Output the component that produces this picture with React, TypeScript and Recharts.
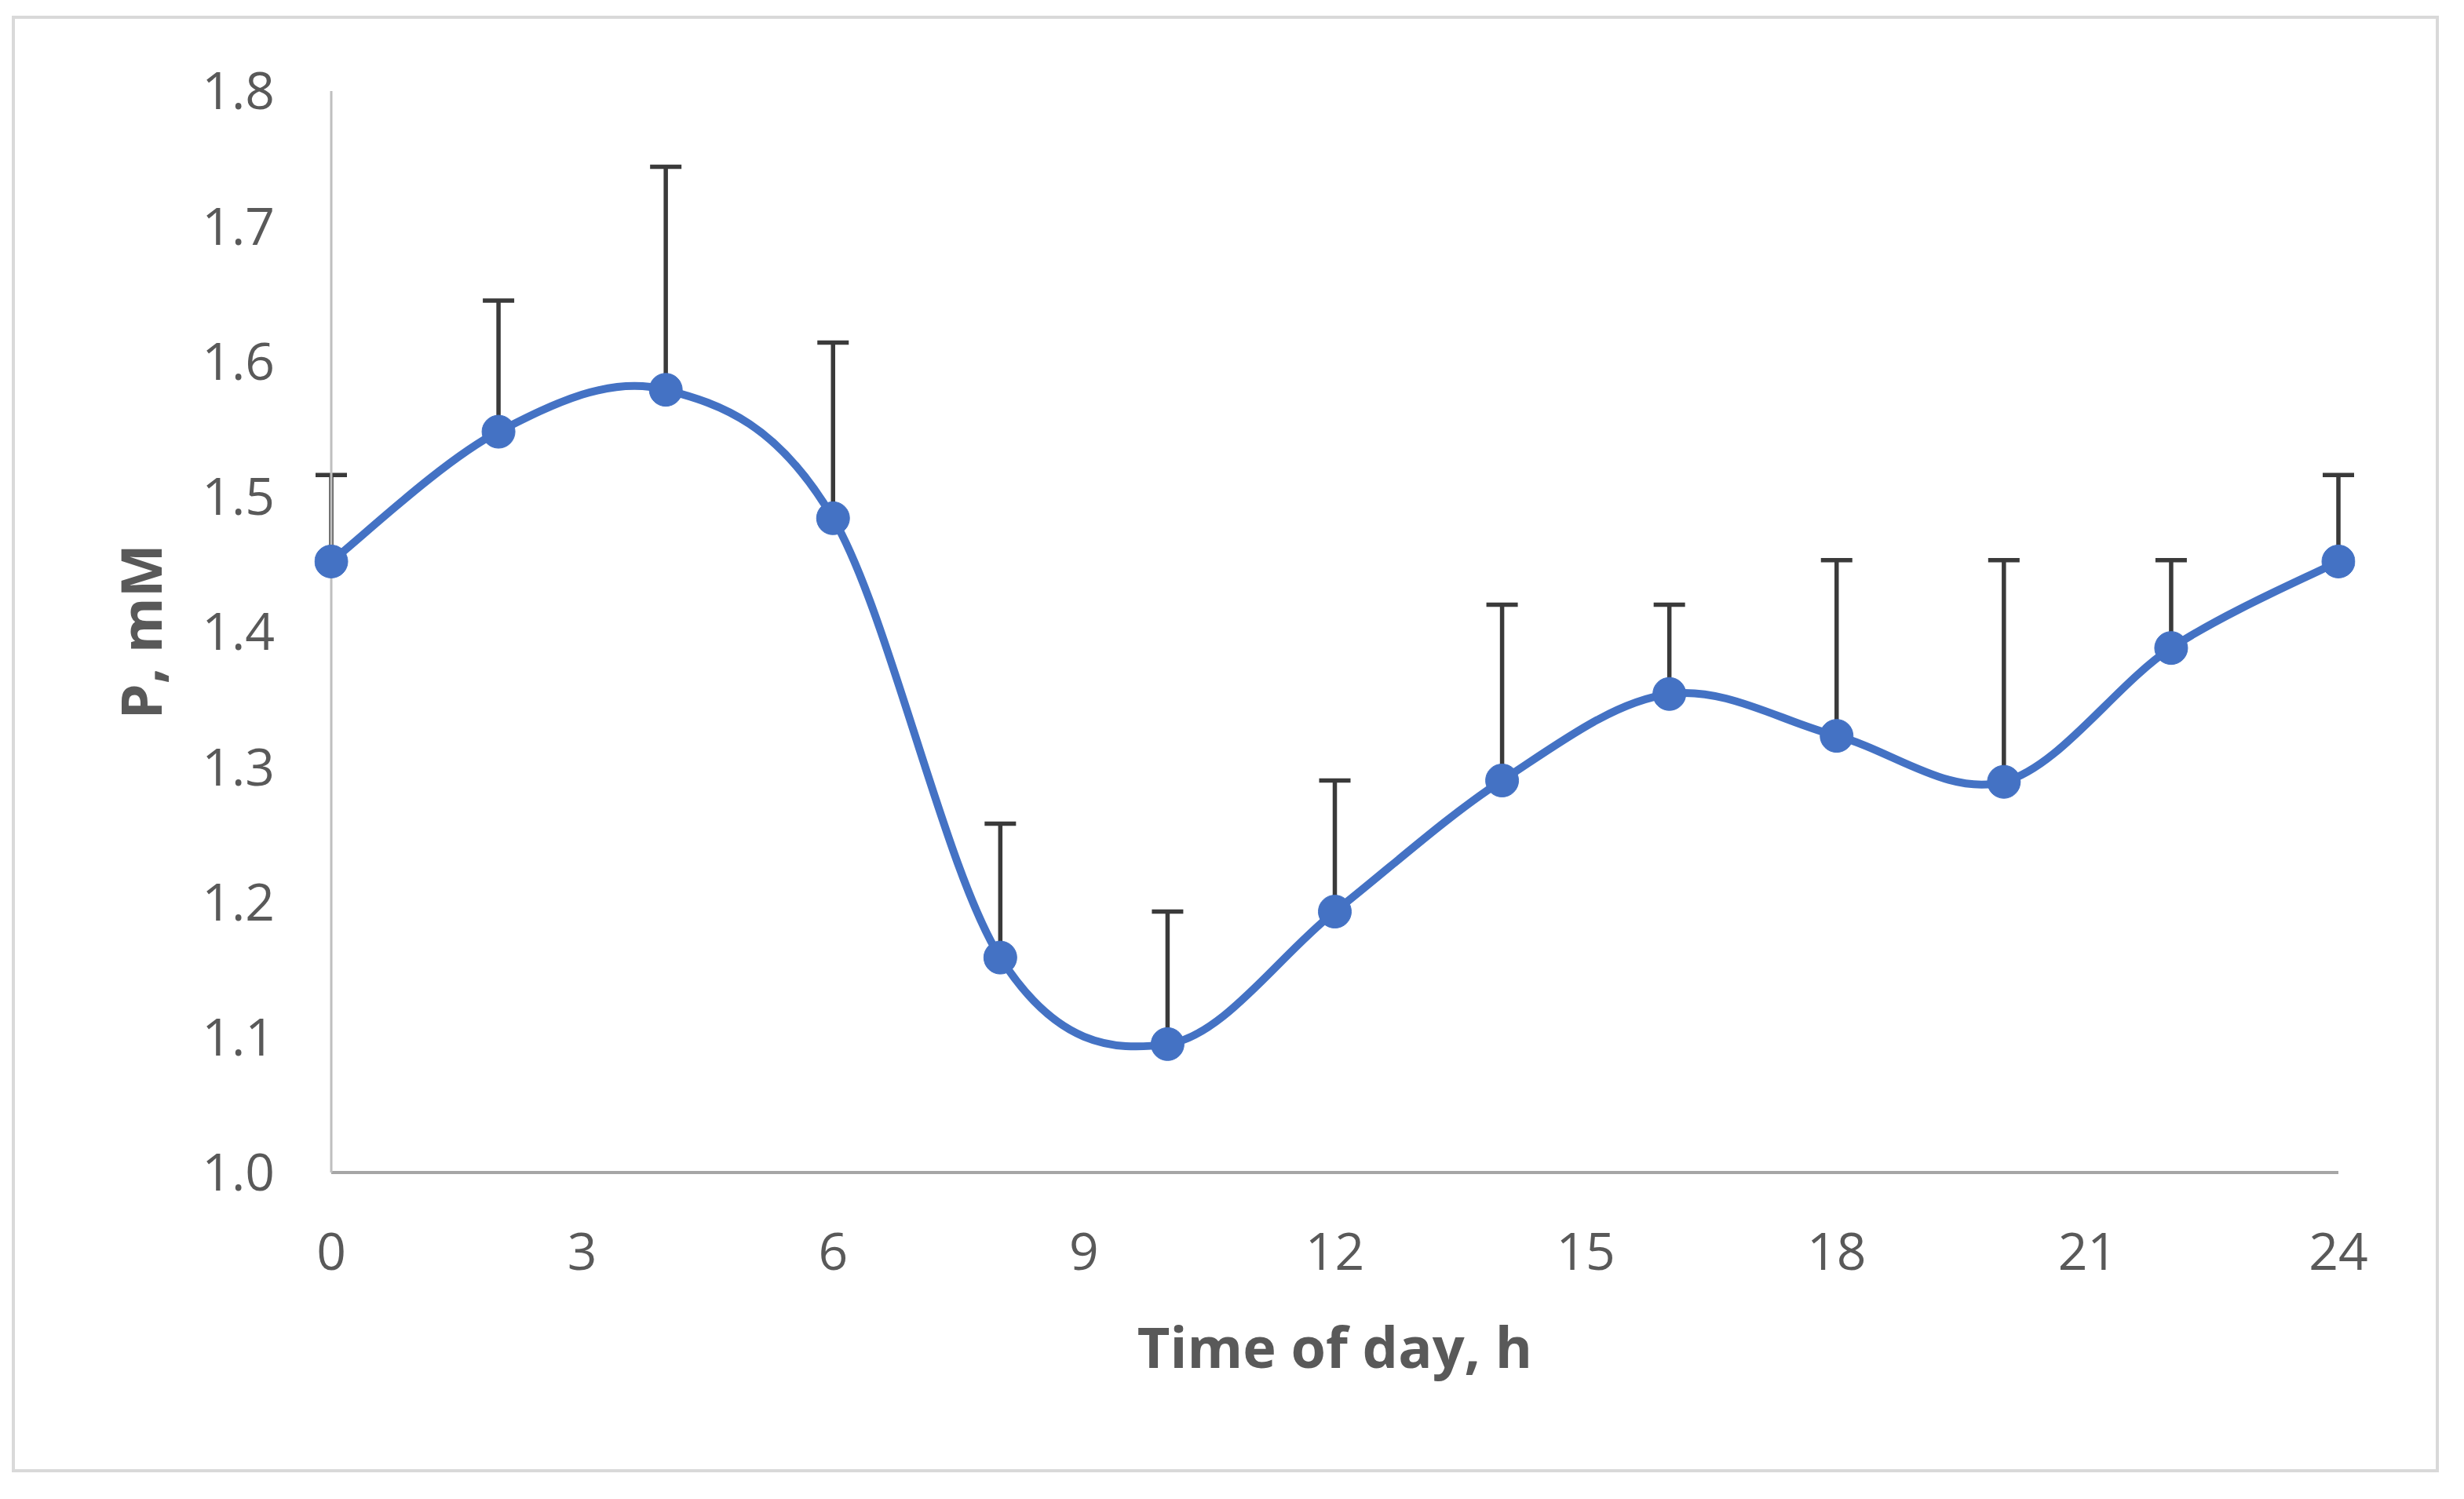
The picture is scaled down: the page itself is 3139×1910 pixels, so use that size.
import React from "react"
import { LineChart, Line, XAxis, YAxis, ErrorBar, Label } from "recharts"

// time points (h) and measured phosphate, mM
const hours = [0, 2, 4, 6, 8, 10, 12, 14, 16, 18, 20, 22, 24]
const meanP = [1.452, 1.548, 1.579, 1.484, 1.159, 1.095, 1.193, 1.29, 1.354, 1.323, 1.289, 1.388, 1.452]
// upper SD only (Excel "plus" error bars)
const sdP = [0.064, 0.097, 0.165, 0.13, 0.099, 0.098, 0.097, 0.13, 0.066, 0.13, 0.164, 0.065, 0.064]

const xTicks = [0, 3, 6, 9, 12, 15, 18, 21, 24]
const yTicks = [1.0, 1.1, 1.2, 1.3, 1.4, 1.5, 1.6, 1.7, 1.8]

const data = hours.map((h, i) => ({ h, p: meanP[i], err: [0, sdP[i]] }))

// Excel-like smoothed line (Catmull-Rom through the points)
function excelSmooth(context: any) {
  let pts: number[][] = []
  return {
    areaStart() {},
    areaEnd() {},
    lineStart() {
      pts = []
    },
    point(x: number, y: number) {
      pts.push([+x, +y])
    },
    lineEnd() {
      if (!pts.length) return
      context.moveTo(pts[0][0], pts[0][1])
      for (let i = 0; i < pts.length - 1; i++) {
        const p0 = pts[Math.max(i - 1, 0)]
        const p1 = pts[i]
        const p2 = pts[i + 1]
        const p3 = pts[Math.min(i + 2, pts.length - 1)]
        context.bezierCurveTo(
          p1[0] + (p2[0] - p0[0]) / 6, p1[1] + (p2[1] - p0[1]) / 6,
          p2[0] - (p3[0] - p1[0]) / 6, p2[1] - (p3[1] - p1[1]) / 6,
          p2[0], p2[1]
        )
      }
    },
  }
}

const font = "'Open Sans', 'Noto Sans', sans-serif"
const grey = "#595959"

export default function App() {
  return (
    <div style={{ position: "absolute", left: 0, top: 0, width: 3139, height: 1910, background: "#fff", fontFamily: font }}>
      <div
        style={{
          position: "absolute", left: 15, top: 20, width: 3092, height: 1856,
          border: "4px solid #d9d9d9", boxSizing: "border-box",
        }}
      />
      <LineChart width={3139} height={1910} data={data} margin={{ top: 116, right: 160, bottom: 0, left: 0 }}>
        <XAxis
          dataKey="h"
          type="number"
          domain={[0, 24]}
          ticks={xTicks}
          allowDataOverflow
          height={416}
          tickLine={false}
          tickMargin={71}
          axisLine={{ stroke: "#a6a6a6", strokeWidth: 4 }}
          tick={{ fontSize: 66, fill: grey, fontFamily: font }}
        >
          <Label
            value="Time of day, h"
            position="insideTop"
            offset={198}
            style={{ fontSize: 72, fontWeight: 700, fill: grey, fontFamily: font }}
          />
        </XAxis>
        <YAxis
          type="number"
          domain={[1.0, 1.8]}
          ticks={yTicks}
          width={422}
          tickLine={false}
          tickMargin={66}
          tickFormatter={(v: number) => v.toFixed(1)}
          axisLine={{ stroke: "#bfbfbf", strokeWidth: 3 }}
          tick={{ fontSize: 66, fill: grey, fontFamily: font }}
        >
          <Label
            value="P, mM"
            angle={-90}
            position="insideLeft"
            offset={180}
            style={{ fontSize: 72, fontWeight: 700, fill: grey, fontFamily: font, textAnchor: "middle" }}
          />
        </YAxis>
        <Line
          dataKey="p"
          type={excelSmooth as any}
          stroke="#4472c4"
          strokeWidth={10}
          dot={{ r: 21, fill: "#4472c4", stroke: "#4472c4", strokeWidth: 1, clipDot: false } as any}
          activeDot={false}
          isAnimationActive={false}
        >
          <ErrorBar dataKey="err" direction="y" width={20} stroke="#3a3a3a" strokeWidth={5.5} />
        </Line>
      </LineChart>
    </div>
  )
}
